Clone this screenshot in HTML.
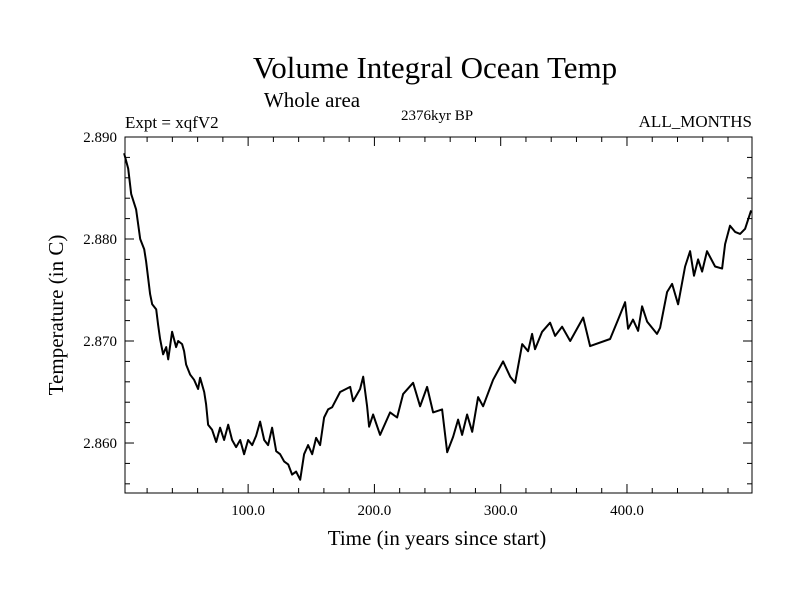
<!DOCTYPE html>
<html><head><meta charset="utf-8">
<style>
body{margin:0;background:#fff;}
svg text{font-family:"Liberation Serif",serif;fill:#000;}
</style></head>
<body>
<svg id="chart" width="800" height="600" viewBox="0 0 800 600" xmlns="http://www.w3.org/2000/svg">
<rect width="800" height="600" fill="#fff"/>
<text x="435" y="78" font-size="31" text-anchor="middle">Volume Integral Ocean Temp</text>
<text x="312" y="107" font-size="21" text-anchor="middle">Whole area</text>
<text x="125" y="128" font-size="17">Expt = xqfV2</text>
<text x="437" y="120" font-size="15" text-anchor="middle">2376kyr BP</text>
<text x="752" y="127" font-size="17" text-anchor="end">ALL_MONTHS</text>
<text x="437" y="545" font-size="21" text-anchor="middle">Time (in years since start)</text>
<text x="0" y="0" font-size="21" text-anchor="middle" transform="translate(63,315) rotate(-90)">Temperature (in C)</text>
<g id="axes"></g>
<g id="plot"></g>
</svg>
<script>
const years=[1.8,5,7.4,11.3,14.5,17.7,19.2,22.4,24,27.2,28.7,30.3,32.7,35.1,36.7,39.8,43,44.6,47.7,49.3,50.9,54.1,57.2,60.4,62,65.2,66.7,68.3,71.5,74.7,77.8,81,84.2,87.3,90.5,93.7,96.8,100,103.2,106.3,109.5,112.7,115.8,119,122.2,125.3,128.5,131.7,134.8,138,141.2,144.3,147.5,150.7,153.8,157,160.2,163.3,166.5,172.8,180.8,183.1,188.7,191.1,194.2,195.8,199,204.5,212.4,218,222.7,230.6,236.2,241.7,246.5,253.6,257.6,262.3,266.3,269.4,273.4,277.4,282.1,286.1,294,301.9,307.5,311.4,317,321.7,324.9,327.2,332.8,339.1,343.1,348.6,355,365.3,370.8,386.6,393,398.5,400.9,404.8,408.8,412,415.9,423.8,426.2,431.8,435.7,440.5,446,450,453.1,456.3,459.5,463.4,469.8,475.3,477.7,481.6,485.6,489.6,493.5,498.3];
const temps=[2.8884,2.8869,2.8844,2.8829,2.8800,2.8790,2.8778,2.8746,2.8736,2.8731,2.8716,2.8702,2.8687,2.8694,2.8682,2.8709,2.8694,2.8700,2.8697,2.8690,2.8677,2.8667,2.8662,2.8653,2.8664,2.8650,2.8638,2.8618,2.8613,2.8601,2.8615,2.8603,2.8618,2.8603,2.8596,2.8603,2.8589,2.8603,2.8598,2.8607,2.8621,2.8603,2.8598,2.8615,2.8592,2.8589,2.8582,2.8579,2.8569,2.8572,2.8564,2.8589,2.8598,2.8589,2.8605,2.8598,2.8625,2.8633,2.8635,2.8650,2.8655,2.8641,2.8653,2.8665,2.8636,2.8616,2.8628,2.8608,2.8630,2.8625,2.8648,2.8659,2.8636,2.8655,2.8630,2.8633,2.8591,2.8606,2.8623,2.8608,2.8628,2.8611,2.8645,2.8636,2.8662,2.8680,2.8665,2.8659,2.8697,2.8690,2.8707,2.8692,2.8709,2.8718,2.8705,2.8714,2.8700,2.8723,2.8695,2.8702,2.8721,2.8738,2.8712,2.8721,2.8710,2.8734,2.8719,2.8707,2.8713,2.8748,2.8756,2.8736,2.8773,2.8788,2.8764,2.8780,2.8768,2.8788,2.8773,2.8771,2.8795,2.8813,2.8807,2.8805,2.8810,2.8828];
const xTickValues=[100,200,300,400];
const xTickLabels=["100.0","200.0","300.0","400.0"];
const yTickValues=[2.86,2.87,2.88,2.89];
const yTickLabels=["2.860","2.870","2.880","2.890"];

const X0=125,X1=752,Y0=137,Y1=493;
const xMin=2.5,xMax=499,yMin=2.8551,yMax=2.890;
function xs(v){return X0+(v-xMin)/(xMax-xMin)*(X1-X0);}
function ys(v){return Y1-(v-yMin)/(yMax-yMin)*(Y1-Y0);}
const NS="http://www.w3.org/2000/svg";
const axes=document.getElementById('axes'),plot=document.getElementById('plot');
function mk(tag,attrs,parent){const e=document.createElementNS(NS,tag);for(const k in attrs)e.setAttribute(k,attrs[k]);parent.appendChild(e);return e;}

const frame=mk('rect',{x:X0,y:Y0,width:X1-X0,height:Y1-Y0,fill:'none',stroke:'#000','stroke-width':1},axes);



// minor x ticks every 20
for(let v=20;v<xMax;v+=20){
  const x=xs(v),major=(v%100===0),L=major?9:5;
  const t1=mk('line',{x1:x,x2:x,y1:Y1,y2:Y1-L,stroke:'#000'},axes);
  
  
  const t2=mk('line',{x1:x,x2:x,y1:Y0,y2:Y0+L,stroke:'#000'},axes);
  
  
}
xTickValues.forEach((v,i)=>{
  const t=mk('text',{x:xs(v),y:Y1+22,'font-size':15,'text-anchor':'middle'},axes);
  t.textContent=xTickLabels[i];
  
  
});
for(let k=0;k<=17;k++){
  const v=2.856+k*0.002;if(v>yMax+1e-9)break;
  const y=ys(v),major=(k%5===2),L=major?9:5;
  const t1=mk('line',{x1:X0,x2:X0+L,y1:y,y2:y,stroke:'#000'},axes);
  
  
  const t2=mk('line',{x1:X1,x2:X1-L,y1:y,y2:y,stroke:'#000'},axes);
  
  
}
yTickValues.forEach((v,i)=>{
  const t=mk('text',{x:X0-8,y:ys(v)+5,'font-size':15,'text-anchor':'end'},axes);
  t.textContent=yTickLabels[i];
  
  
});
let d='';
years.forEach((yr,i)=>{d+=(i?'L':'M')+xs(yr).toFixed(1)+' '+ys(temps[i]).toFixed(1);});
const line=mk('path',{d:d,fill:'none',stroke:'#000','stroke-width':2,'stroke-linejoin':'round'},plot);


</script>
</body></html>
